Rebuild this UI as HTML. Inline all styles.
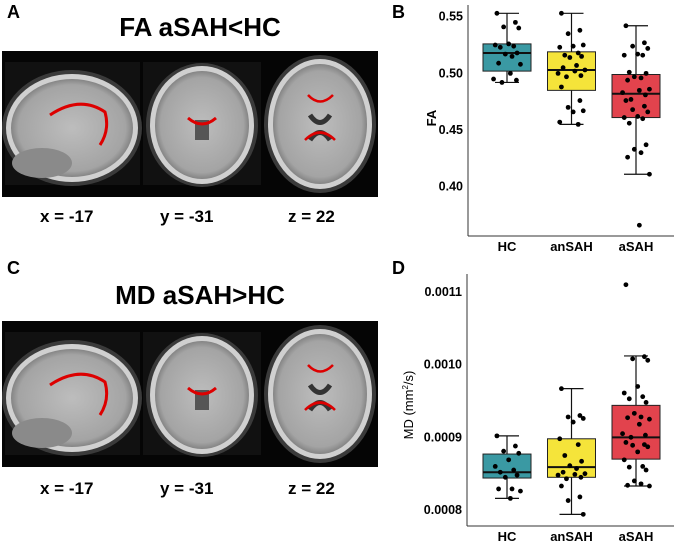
<!DOCTYPE html>
<html><head><meta charset="utf-8">
<style>
body{margin:0;background:#fff;width:676px;height:541px;overflow:hidden;position:relative;font-family:"Liberation Sans",sans-serif}
.lbl{position:absolute;font-weight:bold;color:#000}
</style></head>
<body>
<div class="lbl" style="left:7px;top:2px;font-size:18px">A</div>
<div class="lbl" style="left:392px;top:2px;font-size:18px">B</div>
<div class="lbl" style="left:7px;top:258px;font-size:18px">C</div>
<div class="lbl" style="left:392px;top:258px;font-size:18px">D</div>
<div class="lbl" style="left:0;width:400px;text-align:center;top:12px;font-size:26px">FA aSAH&lt;HC</div>
<div class="lbl" style="left:0;width:400px;text-align:center;top:280px;font-size:26px">MD aSAH&gt;HC</div>
<svg width="400" height="541" style="position:absolute;left:0;top:0">
<defs>
<radialGradient id="g" cx="50%" cy="50%" r="55%"><stop offset="0" stop-color="#bdbdbd"/><stop offset="0.8" stop-color="#a4a4a4"/><stop offset="1" stop-color="#6a6a6a"/></radialGradient>
</defs>
<g id="row1">
<rect x="2" y="51" width="376" height="146" fill="#050505"/>
<rect x="5" y="62" width="135" height="123" fill="#111"/>
<ellipse cx="72" cy="128" rx="70" ry="58" fill="#3a3a3a"/>
<ellipse cx="72" cy="128" rx="66" ry="54" fill="#d0d0d0"/>
<ellipse cx="72" cy="128" rx="61" ry="49" fill="url(#g)"/>
<ellipse cx="42" cy="163" rx="30" ry="15" fill="#8a8a8a"/>
<path d="M50 115 Q80 95 105 112 Q110 130 100 145" stroke="#d00" stroke-width="3" fill="none"/>
<rect x="143" y="62" width="118" height="123" fill="#111"/>
<ellipse cx="202" cy="125" rx="56" ry="62" fill="#3a3a3a"/>
<ellipse cx="202" cy="125" rx="52" ry="59" fill="#d0d0d0"/>
<ellipse cx="202" cy="125" rx="47" ry="54" fill="url(#g)"/>
<path d="M195 120 h14 v20 h-14z" fill="#555"/>
<path d="M188 118 Q202 130 216 118" stroke="#d00" stroke-width="3" fill="none"/>
<ellipse cx="320" cy="124" rx="56" ry="69" fill="#3a3a3a"/>
<ellipse cx="320" cy="124" rx="52" ry="65" fill="#d0d0d0"/>
<ellipse cx="320" cy="124" rx="47" ry="60" fill="url(#g)"/>
<path d="M310 115 Q320 130 330 115 M310 140 Q320 125 330 140" stroke="#333" stroke-width="5" fill="none"/>
<path d="M308 95 Q320 108 333 95 M305 140 Q320 125 335 140" stroke="#d00" stroke-width="2.5" fill="none"/>
</g>
<use href="#row1" y="270"/>
</svg>
<div class="lbl" style="left:40px;top:207px;font-size:17px">x = -17</div>
<div class="lbl" style="left:160px;top:207px;font-size:17px">y = -31</div>
<div class="lbl" style="left:288px;top:207px;font-size:17px">z = 22</div>
<div class="lbl" style="left:40px;top:479px;font-size:17px">x = -17</div>
<div class="lbl" style="left:160px;top:479px;font-size:17px">y = -31</div>
<div class="lbl" style="left:288px;top:479px;font-size:17px">z = 22</div>
<svg id="charts" width="676" height="541" style="position:absolute;left:0;top:0"></svg>
<script>
const categories=["HC","anSAH","aSAH"];
const colors=["#3a99a3","#f5e43a","#e2434d"];
const faTicks=[0.40,0.45,0.50,0.55];
const faQ1=[0.502,0.485,0.461],faMed=[0.518,0.503,0.482],faQ3=[0.526,0.519,0.499],faLo=[0.492,0.455,0.411],faHi=[0.553,0.553,0.542];
const faHC=[0.553,0.545,0.541,0.540,0.526,0.525,0.524,0.523,0.518,0.517,0.515,0.509,0.508,0.500,0.495,0.494,0.492];
const faAn=[0.553,0.538,0.535,0.525,0.524,0.523,0.518,0.516,0.515,0.514,0.507,0.505,0.503,0.502,0.500,0.498,0.497,0.488,0.476,0.470,0.467,0.466,0.457,0.455];
const faAs=[0.542,0.527,0.524,0.522,0.517,0.516,0.516,0.501,0.500,0.497,0.496,0.494,0.486,0.485,0.483,0.481,0.477,0.476,0.471,0.468,0.466,0.462,0.461,0.460,0.456,0.437,0.433,0.430,0.426,0.411,0.366];
const mdTicks=[0.0008,0.0009,0.0010,0.0011];
const mdQ1=[0.000844,0.000845,0.000870],mdMed=[0.000852,0.000859,0.000900],mdQ3=[0.000877,0.000898,0.000944],mdLo=[0.000816,0.000794,0.000833],mdHi=[0.000902,0.000967,0.001012];
const mdHC=[0.000902,0.000888,0.000881,0.000878,0.000869,0.000860,0.000855,0.000852,0.000848,0.000845,0.000829,0.000829,0.000826,0.000816];
const mdAn=[0.000967,0.000930,0.000928,0.000926,0.000921,0.000898,0.000890,0.000875,0.000867,0.000861,0.000857,0.000852,0.000850,0.000849,0.000848,0.000845,0.000843,0.000833,0.000818,0.000813,0.000794];
const mdAs=[0.001110,0.001011,0.001008,0.001006,0.000970,0.000961,0.000956,0.000953,0.000948,0.000933,0.000928,0.000927,0.000925,0.000918,0.000905,0.000903,0.000900,0.000893,0.000890,0.000889,0.000887,0.000880,0.000869,0.000860,0.000859,0.000855,0.000840,0.000836,0.000834,0.000833];
const jit=[-0.3,0.25,-0.1,0.35,0.05,-0.35,0.2,-0.2,0.3,-0.05,0.15,-0.25,0.4,0.1,-0.4,0.28,-0.15];
const NS="http://www.w3.org/2000/svg",svg=document.getElementById('charts');
function mk(t,a,name){const e=document.createElementNS(NS,t);for(const k in a)e.setAttribute(k,a[k]);


svg.appendChild(e);return e;}
function chart(cfg){
 const y=v=>cfg.y0+(v-cfg.v0)*(cfg.y1-cfg.y0)/(cfg.v1-cfg.v0);
 const x=i=>cfg.xs+i*cfg.step;
 mk('line',{x1:cfg.ax,y1:cfg.top,x2:cfg.ax,y2:cfg.bot,stroke:'#333','stroke-width':1},cfg.p+'-y-axis');
 mk('line',{x1:cfg.ax,y1:cfg.bot,x2:674,y2:cfg.bot,stroke:'#333','stroke-width':1},cfg.p+'-x-axis');
 cfg.ticks.forEach(t=>{const tx=mk('text',{x:cfg.ax-5,y:y(t)+4,'text-anchor':'end','font-size':12.5,'font-weight':'bold','font-family':'Liberation Sans'},cfg.p+'-tick-label');tx.textContent=cfg.fmt(t);});
 categories.forEach((c,i)=>{
  const cx=x(i),w=48;
  mk('line',{x1:cx,y1:y(cfg.lo[i]),x2:cx,y2:y(cfg.hi[i]),stroke:'#111','stroke-width':1.2},cfg.p+'-whisker');
  [cfg.lo[i],cfg.hi[i]].forEach(v=>mk('line',{x1:cx-w/4,y1:y(v),x2:cx+w/4,y2:y(v),stroke:'#111','stroke-width':1.2},cfg.p+'-whisker-cap'));
  mk('rect',{x:cx-w/2,y:y(cfg.q3[i]),width:w,height:y(cfg.q1[i])-y(cfg.q3[i]),fill:colors[i],stroke:'#222','stroke-width':1},cfg.p+'-box-'+c);
  mk('line',{x1:cx-w/2,y1:y(cfg.med[i]),x2:cx+w/2,y2:y(cfg.med[i]),stroke:'#111','stroke-width':2},cfg.p+'-median-'+c);
  cfg.pts[i].forEach((v,j)=>mk('circle',{cx:cx+jit[j%jit.length]*w*0.7,cy:y(v),r:2.4,fill:'#000'},cfg.p+'-point'));
  const lb=mk('text',{x:cx,y:cfg.bot+15,'text-anchor':'middle','font-size':13,'font-weight':'bold','font-family':'Liberation Sans'},cfg.p+'-category-label');lb.textContent=c;
 });
 const yt=mk('text',{x:0,y:0,transform:`translate(${cfg.tx},${cfg.tmid}) rotate(-90)`,'text-anchor':'middle','font-size':cfg.ts,'font-weight':cfg.tw,'font-family':'Liberation Sans'},cfg.p+'-y-axis-title');
 yt.innerHTML=cfg.title;
}
chart({p:'fa',ax:468,top:5,bot:236,v0:0.40,v1:0.55,y0:186.7,y1:16.7,xs:507,step:64.5,ticks:faTicks,fmt:t=>t.toFixed(2),
 q1:faQ1,med:faMed,q3:faQ3,lo:faLo,hi:faHi,pts:[faHC,faAn,faAs],tx:436,tmid:118,tw:'bold',ts:13,title:'FA'});
chart({p:'md',ax:467,top:274,bot:526,v0:0.0008,v1:0.0011,y0:510,y1:292,xs:507,step:64.5,ticks:mdTicks,fmt:t=>t.toFixed(4),
 q1:mdQ1,med:mdMed,q3:mdQ3,lo:mdLo,hi:mdHi,pts:[mdHC,mdAn,mdAs],tx:413,tmid:405,tw:'normal',ts:13,title:'MD (mm<tspan dy="-5" font-size="8">2</tspan><tspan dy="5">/s)</tspan>'});
</script>
</body></html>
